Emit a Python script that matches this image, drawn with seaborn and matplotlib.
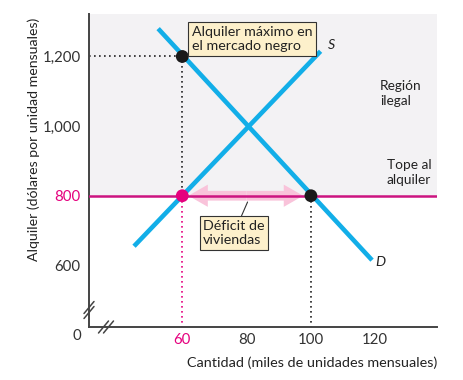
import numpy as np
import pandas as pd
import matplotlib
matplotlib.use("Agg")
import matplotlib.pyplot as plt
import seaborn as sns
from matplotlib.patches import FancyArrowPatch

# ---- data ----
supply_q = [45, 103]
supply_p = [655, 1215]
demand_q = [52.5, 119]
demand_p = [1280, 615]
ceiling_rent = 800
black_market_q = 60
black_market_p = 1200
qs_at_ceiling = 60
qd_at_ceiling = 100
xticks = [60, 80, 100, 120]
xtick_labels = ["60", "80", "100", "120"]
yticks = [600, 800, 1000, 1200]
ytick_labels = ["600", "800", "1,000", "1,200"]

sns.set_theme(style="white")
plt.rcParams['font.family'] = ['Lato', 'DejaVu Sans']

blue = '#12aee8'
magenta = '#cc1480'
dot_magenta = '#e5007e'
dark = '#333333'
gray_bg = '#f3f2f4'
pink = '#f9c3da'
cream = '#fdf0cb'

fig = plt.figure(figsize=(4.63, 3.80), dpi=100)
ax = fig.add_axes([89/463, 53/380, 348/463, 313/380])
xlim = (31, 139.2)
ylim = (423, 1322)
ax.set_xlim(xlim)
ax.set_ylim(ylim)
ax.set_facecolor('white')

ax.axhspan(ceiling_rent, ylim[1], color=gray_bg, zorder=0, lw=0)

# dotted guides
dots = (0, (1, 2))
ax.plot([xlim[0], black_market_q], [black_market_p, black_market_p], ls=dots, color='#222', lw=1.2, zorder=1)
ax.plot([black_market_q, black_market_q], [black_market_p, ceiling_rent], ls=dots, color='#222', lw=1.2, zorder=1)
ax.plot([qs_at_ceiling, qs_at_ceiling], [ceiling_rent, ylim[0]], ls=dots, color=dot_magenta, lw=1.2, zorder=1)
ax.plot([qd_at_ceiling, qd_at_ceiling], [ceiling_rent, ylim[0]], ls=dots, color='#222', lw=1.2, zorder=1)

# shortage arrow
mid = (qs_at_ceiling + qd_at_ceiling) / 2
for end in (61.9, 97.6):
    ar = FancyArrowPatch((mid, ceiling_rent), (end, ceiling_rent),
                         arrowstyle='simple,head_length=14,head_width=16,tail_width=7',
                         mutation_scale=1, color=pink, lw=0, zorder=2,
                         shrinkA=0, shrinkB=0)
    ax.add_patch(ar)

# supply / demand
df_s = pd.DataFrame({'q': supply_q, 'p': supply_p})
df_d = pd.DataFrame({'q': demand_q, 'p': demand_p})
sns.lineplot(data=df_s, x='q', y='p', color=blue, lw=3.3, ax=ax, zorder=3, sort=False)
sns.lineplot(data=df_d, x='q', y='p', color=blue, lw=3.3, ax=ax, zorder=3, sort=False)
for l in ax.lines[-2:]:
    l.set_solid_capstyle('butt')

ax.axhline(ceiling_rent, color=magenta, lw=1.8, zorder=4)

pts = pd.DataFrame({'q': [black_market_q, qd_at_ceiling, qs_at_ceiling],
                    'p': [black_market_p, ceiling_rent, ceiling_rent],
                    'k': ['a', 'b', 'c']})
sns.scatterplot(data=pts, x='q', y='p', hue='k', palette=['#1a1a1a', '#1a1a1a', dot_magenta],
                s=85, edgecolor='none', legend=False, ax=ax, zorder=6)

# annotations
ax.annotate("Alquiler máximo en\nel mercado negro", xy=(black_market_q, black_market_p),
            xytext=(81.7, 1250), ha='center', va='center', multialignment='left',
            fontsize=10.3, color='#222',
            bbox=dict(boxstyle='square,pad=0.25', fc=cream, ec=dark, lw=0.8),
            arrowprops=dict(arrowstyle='-', color=dark, lw=0.8, shrinkA=0, shrinkB=4), zorder=7)
ax.annotate("Déficit de\nviviendas", xy=(80.3, 782), xytext=(76.1, 693),
            ha='center', va='center', multialignment='left', fontsize=10.3, color='#222',
            bbox=dict(boxstyle='square,pad=0.25', fc=cream, ec=dark, lw=0.8),
            arrowprops=dict(arrowstyle='-', color=dark, lw=0.8, shrinkA=0, shrinkB=0), zorder=7)

ax.text(106.3, 1233, "S", fontsize=10.3, style='italic', ha='center', va='center', color='#222')
ax.text(121.6, 610, "D", fontsize=10.3, style='italic', ha='center', va='center', color='#222')
ax.text(121.5, 1095, "Región\nilegal", fontsize=9.8, ha='left', va='center', color='#222', linespacing=1.3)
ax.text(130.5, 866, "Tope al\nalquiler", fontsize=9.8, ha='center', va='center', color='#222', linespacing=1.3)

# axes styling
for s in ['top', 'right']:
    ax.spines[s].set_visible(False)
for s in ['left', 'bottom']:
    ax.spines[s].set_color('#444')
    ax.spines[s].set_linewidth(1.4)
ax.set_xticks(xticks)
ax.set_xticklabels(xtick_labels)
ax.set_yticks(yticks)
ax.set_yticklabels(ytick_labels)
ax.tick_params(direction='in', length=5, width=1.2, color='#444', labelsize=10.8,
               labelcolor='#333', pad=6)
ax.tick_params(axis='x', pad=4)
ax.get_xticklabels()[0].set_color(dot_magenta)
ax.get_yticklabels()[1].set_color(dot_magenta)
ax.set_xlabel("Cantidad (miles de unidades mensuales)", fontsize=10.4, color='#222')
ax.xaxis.set_label_coords(1.0, -0.095)
ax.xaxis.label.set_ha('right')
ax.set_ylabel("Alquiler (dólares por unidad mensuales)", fontsize=10.2, color='#222')
ax.yaxis.set_label_coords(-0.14, 0.6)
ax.grid(False)

ax.text(-0.035, -0.03, "0", transform=ax.transAxes, fontsize=10.8, color='#333', ha='center', va='center')

# axis break marks
W, H = 348.0, 313.0
def brk(cx, cy, offs):
    for ox, oy in offs:
        ax.plot([cx + (ox - 5) / W, cx + (ox + 5) / W], [cy + (oy - 6) / H, cy + (oy + 6) / H],
                transform=ax.transAxes, color='#444', lw=1.1, clip_on=False, zorder=8)
brk(0.0, 17 / H, [(0, -2.5), (0, 2.5)])
brk(17 / W, 0.0, [(-2.5, 0), (2.5, 0)])

fig.savefig("out.png", dpi=100)
